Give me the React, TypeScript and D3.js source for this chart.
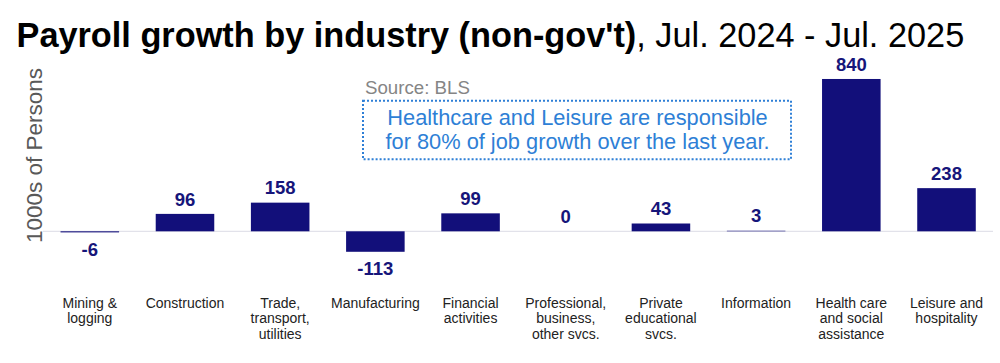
import React from "react";
import * as d3 from "d3";

const categories = [
  "Mining &\nlogging",
  "Construction",
  "Trade,\ntransport,\nutilities",
  "Manufacturing",
  "Financial\nactivities",
  "Professional,\nbusiness,\nother svcs.",
  "Private\neducational\nsvcs.",
  "Information",
  "Health care\nand social\nassistance",
  "Leisure and\nhospitality",
];
const values = [-6, 96, 158, -113, 99, 0, 43, 3, 840, 238];

const titleBold = "Payroll growth by industry (non-gov't)";
const titleRest = ", Jul. 2024 - Jul. 2025";
const yTitle = "1000s of Persons";
const source = "Source: BLS";
const noteLines = [
  "Healthcare and Leisure are responsible",
  "for 80% of job growth over the last year.",
];

const W = 1000;
const H = 363;
const FONT = "'Liberation Sans', Arial, Helvetica, sans-serif";
const BAR = "#120f7a";
const LABEL = "#16157a";
const NOTE = "#2e7fd6";

export default function App() {
  const x = d3
    .scaleBand<string>()
    .domain(categories)
    .range([42.2, 994.1])
    .paddingInner(0.385)
    .paddingOuter(0.1925);
  const y = d3.scaleLinear().domain([-300, 900]).range([285.7, 68.1]);
  const y0 = y(0);

  return (
    <svg
      width={W}
      height={H}
      style={{ position: "absolute", left: 0, top: 0, background: "#fff" }}
      fontFamily={FONT}
    >
      <text x={16.5} y={47} fontSize={34.3} fill="#000">
        <tspan fontWeight="bold">{titleBold}</tspan>
        <tspan>{titleRest}</tspan>
      </text>

      <text
        transform={`translate(42,${155.5}) rotate(-90)`}
        textAnchor="middle"
        fontSize={22.5}
        fill="#595959"
      >
        {yTitle}
      </text>

      <line x1={43} x2={993} y1={y0} y2={y0} stroke="#e2e2ea" strokeWidth={1.2} />

      {categories.map((c, i) => {
        const v = values[i];
        const bx = x(c) as number;
        const top = Math.min(y(v), y0);
        const h = Math.abs(y(v) - y0);
        const cx = bx + x.bandwidth() / 2;
        const ly = v >= 0 ? y(v) - 8.3 : y(v) + 23.5;
        return (
          <g key={c}>
            <rect x={bx} y={top} width={x.bandwidth()} height={h} fill={BAR} />
            <text
              x={cx}
              y={ly}
              textAnchor="middle"
              fontSize={18.5}
              fontWeight="bold"
              fill={LABEL}
            >
              {String(v)}
            </text>
            <text textAnchor="middle" fontSize={14} fill="#222">
              {c.split("\n").map((line, k) => (
                <tspan key={k} x={cx} y={307.7 + k * 15.5}>
                  {line}
                </tspan>
              ))}
            </text>
          </g>
        );
      })}

      <text x={365} y={94} fontSize={18.7} fill="#858585">
        {source}
      </text>
      <rect
        x={363}
        y={100.7}
        width={428}
        height={58.6}
        fill="none"
        stroke={NOTE}
        strokeWidth={2}
        strokeDasharray="2,2"
      />
      {noteLines.map((t, k) => (
        <text
          key={k}
          x={577.5}
          y={124.5 + k * 24}
          textAnchor="middle"
          fontSize={21.8}
          fill={NOTE}
        >
          {t}
        </text>
      ))}
    </svg>
  );
}
